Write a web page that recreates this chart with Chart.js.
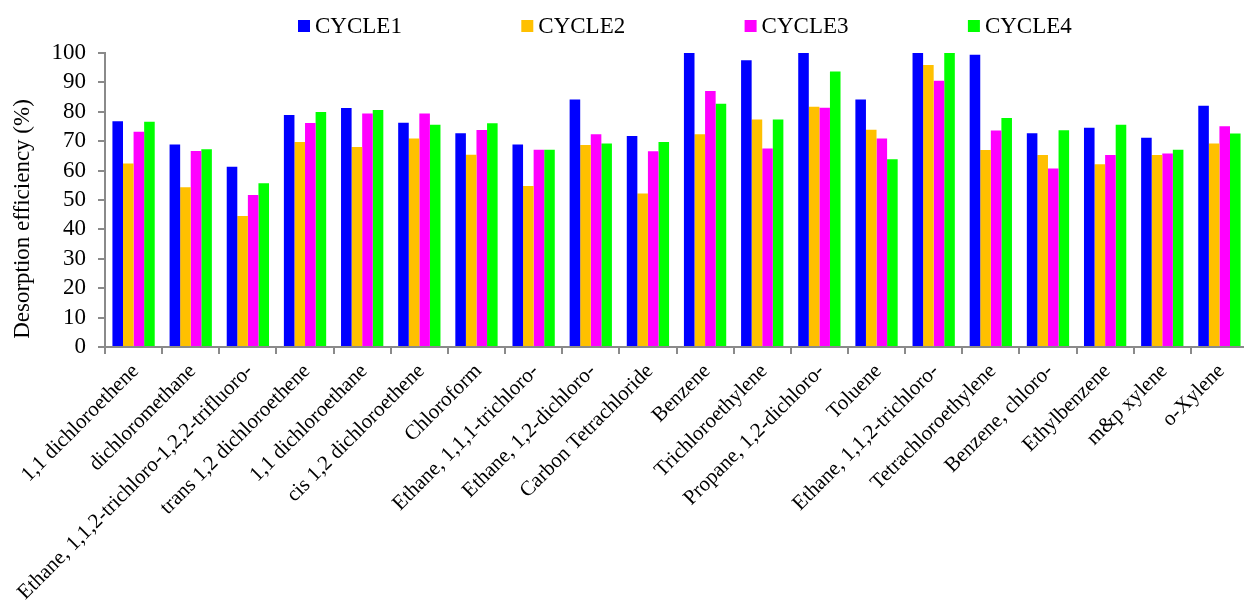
<!DOCTYPE html>
<html>
<head>
<meta charset="utf-8">
<script src="https://cdn.jsdelivr.net/npm/chart.js@4"></script>
<style>
  html, body { margin: 0; padding: 0; background: #fff; overflow: hidden; }
  #wrap { width: 1244px; height: 604px; overflow: hidden; }
  #c { display: block; }
</style>
</head>
<body>
<div id="wrap"><canvas id="c" width="1248" height="604"></canvas></div>
<script>
// Compounds along the x axis
const compounds = [
  "1,1 dichloroethene", "dichloromethane", "Ethane, 1,1,2-trichloro-1,2,2-trifluoro-",
  "trans 1,2 dichloroethene", "1,1 dichloroethane", "cis 1,2 dichloroethene", "Chloroform",
  "Ethane, 1,1,1-trichloro-", "Ethane, 1,2-dichloro-", "Carbon Tetrachloride", "Benzene",
  "Trichloroethylene", "Propane, 1,2-dichloro-", "Toluene", "Ethane, 1,1,2-trichloro-",
  "Tetrachloroethylene", "Benzene, chloro-", "Ethylbenzene", "m&p xylene", "o-Xylene"
];

// Desorption efficiency (%) per regeneration cycle
const cycle1 = [76.8, 68.9, 61.3, 78.9, 81.3, 76.3, 72.7, 68.9, 84.2, 71.8, 100, 97.5, 100, 84.2, 100, 99.4, 72.7, 74.6, 71.2, 82.1];
const cycle2 = [62.4, 54.3, 44.6, 69.7, 68.0, 70.9, 65.4, 54.8, 68.7, 52.2, 72.4, 77.4, 81.7, 73.9, 95.9, 67.0, 65.3, 62.2, 65.3, 69.2];
const cycle3 = [73.2, 66.7, 51.7, 76.2, 79.4, 79.4, 73.8, 67.1, 72.4, 66.6, 87.1, 67.5, 81.4, 70.9, 90.6, 73.6, 60.7, 65.3, 65.8, 75.1];
const cycle4 = [76.6, 67.3, 55.7, 79.9, 80.6, 75.6, 76.1, 67.1, 69.2, 69.7, 82.7, 77.4, 93.7, 63.9, 100, 77.9, 73.7, 75.6, 67.1, 72.6];

const seriesNames = ["CYCLE1", "CYCLE2", "CYCLE3", "CYCLE4"];
const seriesColors = ["#0000FF", "#FFC000", "#FF00FF", "#00FF00"];
const yTitle = "Desorption efficiency (%)";

const SERIF = "'Liberation Serif', 'Times New Roman', serif";
const AXIS_GREY = "#8a8a8a";

Chart.defaults.font.family = SERIF;
Chart.defaults.color = "#000";

// Legend row across the top and the rotated y-axis title
const decorations = {
  id: "decorations",
  afterDraw(chart) {
    const ctx = chart.ctx;
    ctx.save();
    ctx.font = "23px " + SERIF;
    ctx.textBaseline = "middle";
    ctx.textAlign = "left";
    const startX = 298, step = 223.3, y = 26, box = 12;
    chart.data.datasets.forEach((ds, i) => {
      const x = startX + i * step;
      ctx.fillStyle = ds.backgroundColor;
      ctx.fillRect(x, y - box / 2, box, box);
      ctx.fillStyle = "#000";
      ctx.fillText(ds.label, x + box + 5, y + 1);
    });
    ctx.translate(23, 219);
    ctx.rotate(-Math.PI / 2);
    ctx.textAlign = "center";
    ctx.fillText(yTitle, 0, 0);
    ctx.restore();
  }
};

const datasets = [cycle1, cycle2, cycle3, cycle4].map((vals, i) => ({
  label: seriesNames[i],
  data: vals,
  backgroundColor: seriesColors[i],
  borderWidth: 0,
  categoryPercentage: 0.74,
  barPercentage: 1.0
}));

new Chart(document.getElementById("c"), {
  type: "bar",
  data: { labels: compounds, datasets },
  plugins: [decorations],
  options: {
    responsive: false,
    animation: false,
    layout: { padding: { top: 53, right: 0, bottom: 0, left: 0 } },
    plugins: { legend: { display: false }, tooltip: { enabled: false } },
    scales: {
      x: {
        offset: true,
        grid: { display: true, drawOnChartArea: false, drawTicks: true, tickLength: 7, color: AXIS_GREY, lineWidth: 2, offset: true },
        border: { display: true, color: AXIS_GREY, width: 2 },
        ticks: { minRotation: 45, maxRotation: 45, autoSkip: false, font: { size: 21 }, padding: 5, labelOffset: 2, color: "#000" },
        afterFit(scale) { scale.height = 257; }
      },
      y: {
        min: 0, max: 100,
        grid: { display: true, drawOnChartArea: false, drawTicks: true, tickLength: 7, color: AXIS_GREY, lineWidth: 2 },
        border: { display: true, color: AXIS_GREY, width: 2 },
        ticks: { stepSize: 10, autoSkip: false, font: { size: 23 }, padding: 12, color: "#000" },
        afterFit(scale) { scale.width = 105; }
      }
    }
  }
});
</script>
</body>
</html>
